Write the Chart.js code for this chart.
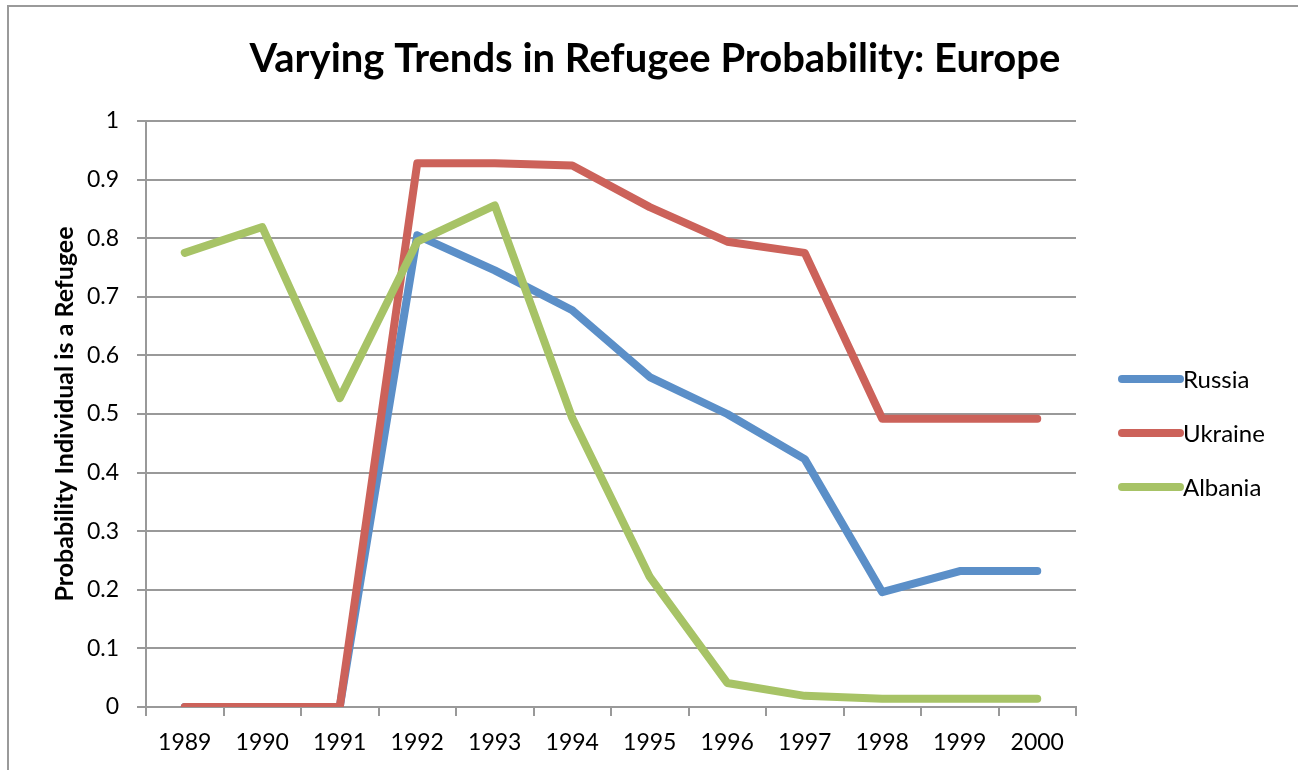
<!DOCTYPE html>
<html>
<head>
<meta charset="utf-8">
<script src="https://cdn.jsdelivr.net/npm/chart.js@4/dist/chart.umd.min.js"></script>
<style>
  html, body { margin: 0; padding: 0; background: #fff; overflow: hidden; }
  #frame { position: absolute; left: 7px; top: 5px; width: 1400px; height: 900px; border: 2px solid #9a9a9a; }
  #chart { position: absolute; left: 0; top: 0; }
</style>
</head>
<body>
<div id="frame"></div>
<canvas id="chart" width="1298" height="770"></canvas>
<script>
var years = ['1989', '1990', '1991', '1992', '1993', '1994', '1995', '1996', '1997', '1998', '1999', '2000'];
var russia = [0, 0, 0, 0.805, 0.745, 0.677, 0.563, 0.5, 0.423, 0.196, 0.232, 0.232];
var ukraine = [0, 0, 0, 0.928, 0.928, 0.924, 0.853, 0.794, 0.775, 0.492, 0.492, 0.492];
var albania = [0.775, 0.819, 0.527, 0.794, 0.856, 0.493, 0.222, 0.041, 0.019, 0.014, 0.014, 0.014];
var chartTitle = 'Varying Trends in Refugee Probability: Europe';

var FONT = 'Lato, "Open Sans", sans-serif';

// title and legend are drawn by hand so they sit where the original has them
var decorations = {
    id: 'decorations',
    afterDraw: function (chart) {
        var ctx = chart.ctx;
        var area = chart.chartArea;
        ctx.save();

        ctx.fillStyle = '#000';
        ctx.font = 'bold 40px ' + FONT;
        ctx.textAlign = 'center';
        ctx.textBaseline = 'alphabetic';
        ctx.fillText(chartTitle, chart.width / 2 + 6, area.top - 49);

        var x = area.right + 46;
        var y = area.top + 258;
        ctx.font = '24px ' + FONT;
        ctx.textBaseline = 'middle';
        ctx.textAlign = 'left';
        chart.data.datasets.forEach(function (ds, i) {
            var yy = y + i * 54;
            ctx.strokeStyle = ds.borderColor;
            ctx.lineWidth = 8;
            ctx.lineCap = 'round';
            ctx.beginPath();
            ctx.moveTo(x, yy);
            ctx.lineTo(x + 58, yy);
            ctx.stroke();
            ctx.fillStyle = '#000';
            ctx.fillText(ds.label, x + 61, yy + 1);
        });
        ctx.restore();
    }
};

var lineStyle = {
    borderWidth: 8,
    pointRadius: 0,
    tension: 0,
    borderCapStyle: 'round',
    borderJoinStyle: 'round'
};

var chart = new Chart(document.getElementById('chart').getContext('2d'), {
    type: 'line',
    data: {
        labels: years,
        datasets: [
            Object.assign({ label: 'Russia', data: russia, borderColor: '#5b8fc8', backgroundColor: '#5b8fc8', order: 3 }, lineStyle),
            Object.assign({ label: 'Ukraine', data: ukraine, borderColor: '#cc625a', backgroundColor: '#cc625a', order: 2 }, lineStyle),
            Object.assign({ label: 'Albania', data: albania, borderColor: '#a7c366', backgroundColor: '#a7c366', order: 1 }, lineStyle)
        ]
    },
    options: {
        responsive: false,
        animation: false,
        layout: { padding: { left: 50, right: 222, top: 121, bottom: 0 } },
        plugins: {
            legend: { display: false },
            tooltip: { enabled: false },
            title: { display: false }
        },
        scales: {
            x: {
                offset: true,
                grid: { offset: true, drawOnChartArea: false, drawTicks: true, tickLength: 9, color: '#999', lineWidth: 2 },
                border: { color: '#999', width: 2 },
                ticks: { color: '#000', font: { family: FONT, size: 23 }, padding: 13, maxRotation: 0, autoSkip: false },
                afterFit: function (s) { s.height = 63; }
            },
            y: {
                min: 0,
                max: 1,
                ticks: {
                    stepSize: 0.1,
                    color: '#000',
                    font: { family: FONT, size: 23 },
                    padding: 18,
                    callback: function (v) { return String(Math.round(v * 10) / 10); }
                },
                grid: { color: '#999', lineWidth: 2, tickLength: 9 },
                border: { color: '#999', width: 2 },
                title: {
                    display: true,
                    text: 'Probability Individual is a Refugee',
                    color: '#000',
                    font: { family: FONT, size: 25, weight: 'bold', lineHeight: 1.2 },
                    padding: 0
                },
                afterFit: function (s) { s.width = 96; }
            }
        }
    },
    plugins: [decorations]
});
</script>
</body>
</html>
